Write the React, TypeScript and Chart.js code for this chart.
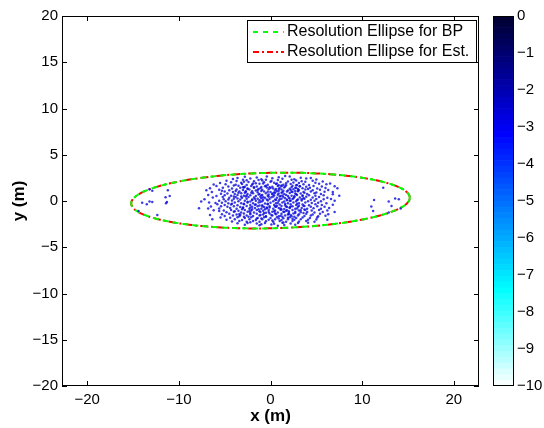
import React, { useEffect, useRef } from "react";
import { Chart, registerables } from "chart.js";

Chart.register(...registerables);

// ---------------- data ----------------
const xRange = [-22.75, 22.75];
const yRange = [-20, 20];
const xTicks = [-20, -10, 0, 10, 20];
const yTicks = [-20, -15, -10, -5, 0, 5, 10, 15, 20];
const colorbarRange = [-10, 0];
const colorbarTicks = [0, -1, -2, -3, -4, -5, -6, -7, -8, -9, -10];
const colorbarLevels = 64;
// colormap stops: [value, r, g, b]
const colorStops: number[][] = [
  [-10, 255, 255, 255],
  [-7.4, 0, 255, 255],
  [-3.2, 0, 0, 255],
  [0, 0, 0, 45],
];

const legendLabels = ["Resolution Ellipse for BP", "Resolution Ellipse for Est."];
// ellipse parameters: centre x, centre y, semi-axis x, semi-axis y, tilt (deg)
const ellipseBP = [0, 0.05, 15.2, 3.0, 1.2];
const ellipseEst = [0, 0.05, 15.2, 3.0, 1.2];

const scatterPoints: number[][] = [
  // left outliers
  [-12.9, 1.1], [-13.2, 1.28], [-11.2, 1.15], [-11.45, 0.4], [-11.0, 0.55], [-11.3, -0.1],
  [-13.2, -0.05], [-14.0, -0.2], [-13.5, -0.35], [-12.9, -0.1], [-11.4, -0.24],
  [-12.35, -1.5], [-14.4, -1.07],
  // right outliers
  [12.3, 1.42], [11.3, 0.12], [12.9, -0.05], [13.6, 0.27], [14.0, 0.2], [13.2, -0.53],
  [11.0, -0.6], [11.2, -1.07], [12.9, -1.24], [14.2, -0.8],
  // cluster
  [-2.8, 2.62], [-1.5, 2.55], [-0.4, 2.66], [0.9, 2.58], [2.1, 2.64], [3.3, 2.52], [-3.6, 2.5], [1.6, 2.7],
  [-4.1, 2.38], [-2.2, 2.44], [-1.0, 2.35], [0.2, 2.47], [1.3, 2.41], [2.6, 2.36], [3.9, 2.43], [5.0, 2.32], [-3.0, 2.31], [-0.5, 2.29], [4.4, 2.48],
  [-4.8, 2.2], [-3.7, 2.16], [-2.6, 2.24], [-1.8, 2.13], [-0.9, 2.21], [0.1, 2.15], [0.8, 2.26], [1.9, 2.12], [2.8, 2.22], [3.4, 2.14], [4.6, 2.19], [5.7, 2.11], [-1.3, 2.28], [2.3, 2.3],
  [-5.5, 1.95], [-4.3, 2.02], [-3.2, 1.97], [-2.4, 2.05], [-1.6, 1.93], [-0.7, 2.03], [0.4, 1.96], [1.1, 2.06], [1.7, 1.92], [2.5, 2.01], [3.1, 1.94], [3.8, 2.07], [4.9, 1.98], [6.5, 1.9], [-2.9, 2.08], [0.0, 2.09],
  [-6.2, 1.78], [-4.9, 1.82], [-3.8, 1.76], [-3.1, 1.84], [-2.0, 1.79], [-1.2, 1.86], [-0.3, 1.75], [0.6, 1.83], [1.4, 1.77], [2.2, 1.85], [2.9, 1.73], [3.6, 1.81], [4.2, 1.74], [5.3, 1.87], [6.1, 1.8], [-2.6, 1.72], [0.9, 1.71], [-0.8, 1.88],
  [-5.9, 1.62], [-4.6, 1.57], [-3.5, 1.64], [-2.8, 1.55], [-2.1, 1.61], [-1.5, 1.58], [-0.5, 1.66], [0.2, 1.54], [0.8, 1.63], [1.6, 1.56], [2.4, 1.65], [3.2, 1.59], [3.9, 1.53], [4.7, 1.62], [5.6, 1.58], [7.0, 1.6], [-1.0, 1.52], [1.2, 1.68], [2.8, 1.69], [-4.0, 1.68],
  [-6.6, 1.38], [-5.2, 1.43], [-4.2, 1.36], [-3.3, 1.42], [-2.5, 1.35], [-1.8, 1.44], [-1.1, 1.37], [-0.4, 1.45], [0.3, 1.34], [1.0, 1.41], [1.5, 1.46], [2.1, 1.33], [2.7, 1.42], [3.5, 1.37], [4.3, 1.44], [5.1, 1.35], [6.0, 1.41], [7.3, 1.39], [-0.1, 1.48], [3.0, 1.31], [-2.9, 1.47],
  [-7.0, 1.17], [-5.6, 1.22], [-4.5, 1.16], [-3.7, 1.24], [-3.0, 1.18], [-2.3, 1.25], [-1.6, 1.14], [-0.9, 1.21], [-0.2, 1.26], [0.5, 1.15], [1.2, 1.23], [1.9, 1.13], [2.5, 1.27], [3.1, 1.19], [3.8, 1.24], [4.6, 1.15], [5.4, 1.21], [6.3, 1.18], [-5.3, 1.1], [0.9, 1.29], [2.2, 1.2], [-1.3, 1.3], [4.1, 1.29],
  [-6.4, 0.98], [-5.0, 1.03], [-4.1, 0.96], [-3.4, 1.04], [-2.7, 0.97], [-2.0, 1.05], [-1.4, 0.95], [-0.7, 1.02], [0.0, 0.97], [0.7, 1.06], [1.3, 0.94], [1.8, 1.03], [2.4, 0.96], [3.0, 1.05], [3.6, 0.98], [4.4, 1.02], [5.0, 0.93], [5.9, 1.01], [6.8, 0.97], [-1.0, 1.08], [2.7, 1.09], [-3.8, 1.08], [0.4, 0.92],
  [-6.8, 0.66], [-5.4, 0.78], [-4.7, 0.82], [-3.9, 0.76], [-3.2, 0.84], [-2.5, 0.75], [-1.9, 0.83], [-1.2, 0.77], [-0.5, 0.85], [0.2, 0.74], [0.9, 0.82], [1.5, 0.76], [2.1, 0.86], [2.8, 0.73], [3.3, 0.81], [4.0, 0.77], [4.8, 0.84], [5.5, 0.75], [6.8, 0.74], [-2.8, 0.89], [1.2, 0.88], [-0.2, 0.71], [3.7, 0.88],
  [-5.9, 0.55], [-5.0, 0.62], [-4.3, 0.57], [-3.6, 0.64], [-2.9, 0.56], [-2.2, 0.63], [-1.6, 0.55], [-0.9, 0.65], [-0.3, 0.58], [0.4, 0.62], [1.1, 0.54], [1.7, 0.66], [2.3, 0.57], [2.9, 0.64], [3.5, 0.55], [4.2, 0.61], [4.9, 0.56], [5.8, 0.63], [7.5, 0.58], [-1.3, 0.69], [0.8, 0.68], [2.6, 0.51], [-4.0, 0.5],
  [-6.3, 0.38], [-5.2, 0.42], [-4.5, 0.36], [-3.8, 0.44], [-3.1, 0.35], [-2.4, 0.43], [-1.8, 0.37], [-1.1, 0.45], [-0.6, 0.34], [0.1, 0.41], [0.7, 0.36], [1.4, 0.44], [2.0, 0.35], [2.6, 0.43], [3.2, 0.37], [3.9, 0.45], [4.6, 0.38], [5.3, 0.43], [6.2, 0.36], [-2.7, 0.48], [1.0, 0.49], [-0.2, 0.47], [3.6, 0.31],
  [-7.2, 0.18], [-5.1, 0.2], [-4.6, 0.16], [-4.0, 0.23], [-3.3, 0.15], [-2.6, 0.24], [-2.0, 0.17], [-1.4, 0.25], [-0.8, 0.14], [-0.1, 0.22], [0.5, 0.16], [1.2, 0.24], [1.8, 0.13], [2.4, 0.21], [3.0, 0.17], [3.7, 0.25], [4.4, 0.14], [5.0, 0.22], [5.8, 0.18], [6.6, 0.21], [-1.0, 0.29], [2.1, 0.28], [-3.6, 0.27],
  [-6.7, -0.16], [-7.56, -0.05], [-5.6, 0.02], [-4.9, -0.03], [-4.2, 0.05], [-3.5, -0.04], [-2.8, 0.03], [-2.2, -0.05], [-1.6, 0.04], [-0.9, -0.02], [-0.3, 0.06], [0.3, -0.04], [0.9, 0.03], [1.5, -0.06], [2.2, 0.02], [2.8, -0.03], [3.4, 0.05], [4.1, -0.04], [4.8, 0.04], [5.5, -0.02], [7.0, 0.02], [-1.2, 0.09], [1.8, 0.08], [-2.5, -0.09], [0.6, 0.1],
  [-6.0, -0.22], [-5.3, -0.18], [-4.6, -0.25], [-3.9, -0.17], [-3.2, -0.24], [-2.5, -0.16], [-1.9, -0.23], [-1.3, -0.15], [-0.6, -0.26], [0.0, -0.18], [0.6, -0.24], [1.3, -0.16], [1.9, -0.25], [2.5, -0.17], [3.1, -0.23], [3.8, -0.15], [4.5, -0.22], [5.2, -0.18], [6.1, -0.25], [-0.3, -0.3], [2.9, -0.31], [-4.2, -0.3],
  [-5.8, -0.35], [-5.0, -0.42], [-4.3, -0.37], [-3.6, -0.45], [-2.9, -0.36], [-2.2, -0.44], [-1.6, -0.38], [-0.9, -0.46], [-0.3, -0.35], [0.4, -0.43], [1.0, -0.37], [1.6, -0.45], [2.2, -0.34], [2.8, -0.42], [3.5, -0.38], [4.2, -0.46], [4.9, -0.36], [5.6, -0.43], [6.8, -0.4], [-1.2, -0.49], [0.7, -0.5], [3.1, -0.5],
  [-6.5, -0.6], [-5.4, -0.58], [-4.7, -0.63], [-4.0, -0.56], [-3.3, -0.64], [-2.6, -0.55], [-2.0, -0.62], [-1.4, -0.57], [-0.7, -0.65], [-0.1, -0.56], [0.6, -0.63], [1.2, -0.55], [1.8, -0.64], [2.4, -0.58], [3.0, -0.62], [3.7, -0.54], [4.4, -0.63], [5.1, -0.57], [5.9, -0.61], [-3.0, -0.69], [2.1, -0.7], [-0.4, -0.71],
  [-7.8, -0.78], [-6.8, -0.8], [-5.6, -0.82], [-4.4, -0.77], [-3.7, -0.84], [-3.0, -0.76], [-2.3, -0.83], [-1.7, -0.75], [-1.0, -0.85], [-0.4, -0.78], [0.3, -0.84], [0.9, -0.76], [1.5, -0.86], [2.1, -0.77], [2.7, -0.83], [3.4, -0.75], [4.0, -0.85], [4.7, -0.79], [5.5, -0.84], [6.4, -0.77], [-2.0, -0.9], [1.2, -0.91], [3.7, -0.92],
  [-6.2, -1.0], [-5.1, -1.03], [-4.3, -0.97], [-3.5, -1.05], [-2.8, -0.96], [-2.1, -1.04], [-1.5, -0.97], [-0.8, -1.06], [-0.2, -0.98], [0.5, -1.04], [1.1, -0.95], [1.7, -1.05], [2.4, -0.97], [3.1, -1.03], [3.8, -0.96], [4.5, -1.04], [5.3, -0.98], [6.2, -1.02], [-1.2, -1.1], [2.0, -1.11], [-3.9, -1.12],
  [-5.6, -1.07], [-4.8, -1.22], [-4.0, -1.17], [-3.2, -1.24], [-2.5, -1.16], [-1.8, -1.25], [-1.1, -1.18], [-0.5, -1.26], [0.2, -1.15], [0.8, -1.23], [1.4, -1.17], [2.0, -1.26], [2.7, -1.15], [3.3, -1.22], [4.0, -1.18], [4.8, -1.25], [5.7, -1.19], [7.0, -1.2], [-2.2, -1.3], [0.5, -1.32], [3.6, -1.31],
  [-6.6, -1.5], [-5.3, -1.42], [-4.5, -1.37], [-3.7, -1.45], [-2.9, -1.36], [-2.2, -1.44], [-1.5, -1.38], [-0.8, -1.46], [-0.1, -1.35], [0.6, -1.43], [1.2, -1.37], [1.9, -1.45], [2.5, -1.36], [3.1, -1.44], [3.9, -1.38], [4.6, -1.46], [5.4, -1.39], [6.3, -1.42], [-1.1, -1.5], [2.2, -1.52], [-3.3, -1.51],
  [-5.0, -1.62], [-4.1, -1.57], [-3.4, -1.64], [-2.6, -1.56], [-1.9, -1.63], [-1.2, -1.57], [-0.5, -1.65], [0.2, -1.56], [0.9, -1.64], [1.6, -1.58], [2.3, -1.66], [3.0, -1.57], [3.7, -1.63], [4.4, -1.56], [5.2, -1.64], [6.0, -1.6], [-2.9, -1.7], [1.3, -1.71],
  [-5.45, -1.78], [-4.4, -1.82], [-3.6, -1.76], [-2.8, -1.84], [-2.1, -1.77], [-1.4, -1.85], [-0.7, -1.76], [0.0, -1.83], [0.7, -1.77], [1.4, -1.86], [2.1, -1.75], [2.8, -1.83], [3.5, -1.78], [4.3, -1.85], [5.1, -1.79], [-1.0, -1.9], [2.4, -1.92],
  [-6.35, -1.97], [-4.8, -2.02], [-3.9, -1.97], [-3.1, -2.05], [-2.3, -1.98], [-1.6, -2.06], [-0.9, -1.97], [-0.2, -2.04], [0.5, -1.96], [1.2, -2.05], [1.9, -1.98], [2.6, -2.03], [3.3, -1.96], [4.1, -2.04], [5.0, -1.99], [6.2, -2.02], [0.2, -2.1],
  [-4.2, -2.22], [-3.4, -2.16], [-2.6, -2.24], [-1.9, -2.17], [-1.2, -2.25], [-0.5, -2.18], [0.3, -2.23], [1.0, -2.15], [1.7, -2.24], [2.4, -2.17], [3.1, -2.22], [3.9, -2.16], [4.8, -2.23], [-2.2, -2.3], [1.4, -2.32],
  [-3.6, -2.41], [-2.5, -2.37], [-1.5, -2.44], [-0.6, -2.38], [0.4, -2.45], [1.3, -2.36], [2.2, -2.43], [3.0, -2.39], [4.1, -2.35], [-1.0, -2.5],
  [-2.8, -2.58], [-1.2, -2.62], [0.1, -2.55], [1.5, -2.6], [2.7, -2.56], [0.8, -2.68],
  // denser core
  [-2.7, 1.05], [-1.7, 0.25], [-0.6, 1.6], [0.5, 0.9], [1.6, -0.3], [2.3, 1.5], [-2.3, -1.1], [-0.9, -0.6], [0.1, -1.5], [1.1, -0.8],
  [2.9, 0.1], [3.3, -1.0], [-3.2, 0.5], [-1.9, 1.9], [-0.4, 0.15], [0.7, 1.9], [1.9, 0.55], [2.6, -1.7], [-2.9, -0.3], [-1.5, -1.9],
  [0.3, 0.5], [1.4, 1.1], [2.0, -1.4], [3.5, 0.6], [-3.4, -1.4], [-2.1, 0.9], [-0.7, -1.3], [0.9, -1.9], [1.7, 1.7], [2.7, 0.8],
  [-1.4, 1.2], [-0.1, -0.7], [1.0, 0.2], [2.2, -0.6], [3.2, 1.6], [-3.0, 1.5], [-1.7, -0.4], [-0.3, 1.0], [0.8, -0.2], [1.8, -1.0],
  [2.5, 0.3], [-2.4, -1.7], [-1.0, 0.6], [0.4, -1.1], [1.3, 0.6], [2.9, -0.8], [-2.0, 0.1], [-0.5, -1.7], [0.6, 1.3], [1.5, -1.2],
  [3.0, 1.1], [-2.6, 0.6], [-1.3, -0.9], [0.0, 1.4], [1.1, -1.6], [2.3, 1.0], [-3.5, 0.9], [-2.2, -0.7], [-0.8, 0.4], [0.5, -0.6],
  [1.6, 0.3], [2.7, -1.3], [-1.8, 1.5], [-0.2, -1.2], [1.2, 1.6], [2.1, 0.0], [3.6, -0.5], [-3.1, -0.9], [-1.1, -0.1], [0.2, 0.8],
  [1.9, -1.8], [2.8, 1.4], [-2.5, 1.3], [-0.6, -0.9], [0.9, 1.1], [1.7, -0.6], [3.4, 0.2],
];

// ---------------- helpers ----------------
const FONT = "'Liberation Sans', Arial, Helvetica, sans-serif";
const minus = (v: number | string) => String(v).replace("-", "\u2212");

const GREEN = "#00ff00";
const RED = "#ff0000";
const GREEN_DASH = [6, 4];
const RED_DASH = [8, 3, 2, 3];

function ellipsePath(p: number[]) {
  const [cx, cy, a, b, deg] = p;
  const t = (deg * Math.PI) / 180;
  const pts: { x: number; y: number }[] = [];
  const n = 240;
  for (let i = 0; i <= n; i++) {
    const th = (2 * Math.PI * i) / n;
    const ex = a * Math.cos(th);
    const ey = b * Math.sin(th);
    pts.push({ x: cx + ex * Math.cos(t) - ey * Math.sin(t), y: cy + ex * Math.sin(t) + ey * Math.cos(t) });
  }
  return pts;
}

function colorAt(v: number) {
  for (let i = 0; i < colorStops.length - 1; i++) {
    const a = colorStops[i];
    const b = colorStops[i + 1];
    if (v >= a[0] && v <= b[0]) {
      const f = (v - a[0]) / (b[0] - a[0]);
      const c = [1, 2, 3].map((k) => Math.round(a[k] + (b[k] - a[k]) * f));
      return `rgb(${c[0]},${c[1]},${c[2]})`;
    }
  }
  const l = colorStops[colorStops.length - 1];
  return `rgb(${l[1]},${l[2]},${l[3]})`;
}

const legendItems = [
  { text: legendLabels[0], color: GREEN, dash: [5, 5] },
  { text: legendLabels[1], color: RED, dash: [6, 3, 2, 3] },
];

const boxPlugin = {
  id: "matlabBox",
  afterDraw(chart: any) {
    const { ctx, chartArea: ca, scales } = chart;
    ctx.save();
    ctx.globalAlpha = 1;
    ctx.setLineDash([]);
    ctx.strokeStyle = "#000";
    ctx.lineWidth = 1;
    ctx.strokeRect(ca.left + 0.5, ca.top + 0.5, ca.right - ca.left - 1, ca.bottom - ca.top - 1);
    const L = 5;
    ctx.beginPath();
    scales.x.ticks.forEach((t: any) => {
      const px = Math.round(scales.x.getPixelForValue(t.value)) + 0.5;
      ctx.moveTo(px, ca.bottom);
      ctx.lineTo(px, ca.bottom - L);
      ctx.moveTo(px, ca.top);
      ctx.lineTo(px, ca.top + L);
    });
    scales.y.ticks.forEach((t: any) => {
      const py = Math.round(scales.y.getPixelForValue(t.value)) + 0.5;
      ctx.moveTo(ca.left, py);
      ctx.lineTo(ca.left + L, py);
      ctx.moveTo(ca.right, py);
      ctx.lineTo(ca.right - L, py);
    });
    ctx.stroke();

    // legend
    const lx = 247, ly = 20, lw = 229, lh = 42;
    ctx.fillStyle = "#fff";
    ctx.fillRect(lx, ly, lw, lh);
    ctx.strokeStyle = "#000";
    ctx.strokeRect(lx + 0.5, ly + 0.5, lw, lh);
    legendItems.forEach((it, i) => {
      const y = ly + 12 + i * 20;
      ctx.save();
      ctx.globalAlpha = 1;
      ctx.strokeStyle = it.color;
      ctx.lineWidth = 2;
      ctx.lineCap = "butt";
      ctx.setLineDash(it.dash);
      ctx.beginPath();
      ctx.moveTo(lx + 6, y);
      ctx.lineTo(lx + 37, y);
      ctx.stroke();
      ctx.restore();
      ctx.fillStyle = "#000";
      ctx.font = `16px ${FONT}`;
      ctx.textBaseline = "middle";
      ctx.textAlign = "left";
      ctx.fillText(it.text, lx + 40, y);
    });
    ctx.restore();
  },
};

const cbBorderPlugin = {
  id: "cbBorder",
  afterDraw(chart: any) {
    const { ctx, chartArea: ca } = chart;
    ctx.save();
    ctx.strokeStyle = "#000";
    ctx.lineWidth = 1;
    ctx.strokeRect(ca.left + 0.5, ca.top + 0.5, ca.right - ca.left - 1, ca.bottom - ca.top - 1);
    ctx.restore();
  },
};

export default function App() {
  const mainRef = useRef<HTMLCanvasElement>(null);
  const cbRef = useRef<HTMLCanvasElement>(null);

  useEffect(() => {
    const tickFont = { family: FONT, size: 15 };
    const titleFont = { family: FONT, size: 17, weight: "bold" as const };
    const main = new Chart(mainRef.current!, {
      type: "scatter",
      data: {
        datasets: [
          {
            label: "points",
            data: scatterPoints.map((p) => ({ x: p[0], y: p[1] })),
            backgroundColor: "rgba(10,10,220,0.8)",
            borderWidth: 0,
            pointRadius: 1.25,
          },
          {
            label: legendLabels[0],
            data: ellipsePath(ellipseBP),
            showLine: true,
            borderColor: GREEN,
            borderWidth: 2,
            borderDash: GREEN_DASH,
            pointRadius: 0,
            fill: false,
          },
          {
            label: legendLabels[1],
            data: ellipsePath(ellipseEst),
            showLine: true,
            borderColor: RED,
            borderWidth: 2,
            borderDash: RED_DASH,
            pointRadius: 0,
            fill: false,
          },
        ],
      },
      options: {
        responsive: false,
        animation: false,
        layout: { padding: { left: 0, top: 16, right: 65, bottom: 0 } },
        plugins: { legend: { display: false }, tooltip: { enabled: false } },
        scales: {
          x: {
            type: "linear",
            min: xRange[0],
            max: xRange[1],
            afterBuildTicks: (s: any) => {
              s.ticks = xTicks.map((v) => ({ value: v }));
            },
            afterFit: (s: any) => {
              s.height = 42;
            },
            grid: { display: false, drawTicks: false },
            border: { display: false },
            ticks: { font: tickFont, color: "#000", padding: 5, maxRotation: 0, callback: (v: any) => minus(v) },
            title: { display: true, text: "x (m)", font: titleFont, color: "#000", padding: { top: 0, bottom: 1 } },
          },
          y: {
            type: "linear",
            min: yRange[0],
            max: yRange[1],
            afterBuildTicks: (s: any) => {
              s.ticks = yTicks.map((v) => ({ value: v }));
            },
            afterFit: (s: any) => {
              s.width = 62;
            },
            grid: { display: false, drawTicks: false },
            border: { display: false },
            ticks: { font: tickFont, color: "#000", padding: 4, callback: (v: any) => minus(v) },
            title: { display: true, text: "y (m)", font: titleFont, color: "#000", padding: { top: 9, bottom: 0 } },
          },
        },
      },
      plugins: [boxPlugin],
    });

    const step = (colorbarRange[1] - colorbarRange[0]) / colorbarLevels;
    const bands = Array.from({ length: colorbarLevels }, (_, i) => {
      const lo = colorbarRange[0] + i * step;
      const hi = lo + step;
      return {
        label: `band${i}`,
        data: [[lo, hi]] as any,
        backgroundColor: colorAt((lo + hi) / 2),
        borderWidth: 0,
        barPercentage: 1,
        categoryPercentage: 1,
        grouped: false,
      };
    });

    const cb = new Chart(cbRef.current!, {
      type: "bar",
      data: { labels: ["colorbar"], datasets: bands },
      options: {
        responsive: false,
        animation: false,
        layout: { padding: { left: 493, top: 16, right: 0, bottom: 42 } },
        plugins: { legend: { display: false }, tooltip: { enabled: false } },
        scales: {
          x: { display: false },
          y: {
            position: "right",
            min: colorbarRange[0],
            max: colorbarRange[1],
            afterBuildTicks: (s: any) => {
              s.ticks = colorbarTicks.map((v) => ({ value: v }));
            },
            afterFit: (s: any) => {
              s.width = 30;
            },
            grid: { display: false, drawTicks: false },
            border: { display: false },
            ticks: { font: tickFont, color: "#000", padding: 3, callback: (v: any) => minus(v) },
          },
        },
      },
      plugins: [cbBorderPlugin],
    });

    return () => {
      main.destroy();
      cb.destroy();
    };
  }, []);

  return (
    <div style={{ position: "fixed", left: 0, top: 0, width: 544, height: 428, background: "#fff" }}>
      <canvas ref={mainRef} width={544} height={428} style={{ position: "absolute", left: 0, top: 0 }} />
      <canvas ref={cbRef} width={544} height={428} style={{ position: "absolute", left: 0, top: 0 }} />
    </div>
  );
}
